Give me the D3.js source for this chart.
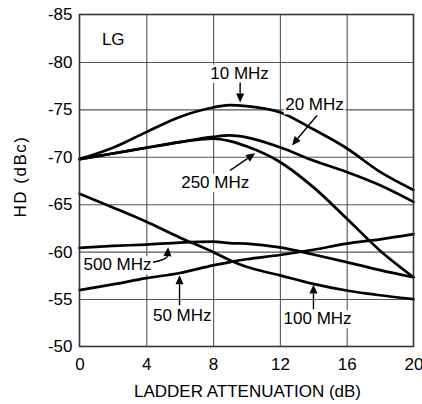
<!DOCTYPE html>
<html>
<head>
<meta charset="utf-8">
<script src="https://cdn.jsdelivr.net/npm/d3@7"></script>
<style>
  html, body { margin: 0; padding: 0; background: #fff; }
  svg { display: block; }
  text { font-family: "Liberation Sans", Arial, Helvetica, sans-serif; fill: #000; }
</style>
</head>
<body>
<svg id="chart" width="422" height="404"></svg>
<script>
// ---- data ----
const xValues = [0, 2, 4, 6, 8, 9, 10, 12, 14, 16, 18, 20];
const hd10MHz  = [-69.75, -70.95, -72.6, -74.2, -75.2, -75.45, -75.35, -74.7, -72.9, -70.9, -68.4, -66.5];
const hd20MHz  = [-69.75, -70.35, -70.95, -71.55, -72.1, -72.25, -72.05, -71.0, -69.6, -68.4, -67.0, -65.25];
const hd250MHz = [-69.75, -70.35, -70.95, -71.55, -71.9, -71.65, -71.1, -69.45, -66.8, -63.5, -60.1, -57.3];
const hd500MHz = [-60.4, -60.6, -60.75, -60.95, -61.05, -60.9, -60.85, -60.45, -59.7, -58.9, -58.05, -57.3];
const hd100MHz = [-66.1, -64.65, -63.15, -61.5, -59.96, -59.1, -58.4, -57.5, -56.6, -55.9, -55.4, -55.0];
const hd50MHz  = [-55.95, -56.55, -57.2, -57.75, -58.55, -58.9, -59.2, -59.65, -60.2, -60.85, -61.3, -61.85];
const seriesList = [hd10MHz, hd20MHz, hd250MHz, hd500MHz, hd100MHz, hd50MHz];

const xTicks = [0, 4, 8, 12, 16, 20];
const yTicks = [-85, -80, -75, -70, -65, -60, -55, -50];
const xTitle = "LADDER ATTENUATION (dB)";
const yTitle = "HD (dBc)";

// annotation labels: text, x (dB), baseline y (dBc)
const labelTexts = ["LG", "10 MHz", "20 MHz", "250 MHz", "500 MHz", "50 MHz", "100 MHz"];
const labelX     = [2.02, 7.83, 12.32, 6.09, 0.24, 4.40, 12.22];
const labelY     = [-81.81, -78.23, -74.89, -66.70, -58.04, -52.70, -52.35];
const labelAnchor = ["middle", "start", "start", "start", "start", "start", "start"];
const labelBg     = [false, true, true, true, true, true, true];

// arrows: [tail, (control), tip] in data units
const arrows = [
  [[9.62, -77.84], [9.62, -75.73]],
  [[14.22, -74.36], [12.72, -71.20]],
  [[9.02, -68.57], [10.52, -70.36]],
  [[4.41, -58.88], [5.25, -59.19], [5.31, -60.47]],
  [[5.99, -54.35], [5.99, -57.51]],
  [[14.01, -53.93], [14.01, -56.53]]
];

// ---- layout ----
const L = 79.5, R = 413.5, T = 14.5, B = 346.5;
const FS = 17;

const svg = d3.select("#chart");
const x = d3.scaleLinear().domain([0, 20]).range([L, R]);
const y = d3.scaleLinear().domain([-85, -50]).range([T, B]);

// gridlines
svg.append("g")
  .attr("transform", `translate(0,${B})`)
  .call(d3.axisBottom(x).tickValues(xTicks.slice(1, -1)).tickSize(-(B - T)).tickFormat(""))
  .call(g => g.select(".domain").remove())
  .call(g => g.selectAll("line").attr("stroke", "#555").attr("stroke-width", 1.1));
svg.append("g")
  .attr("transform", `translate(${L},0)`)
  .call(d3.axisLeft(y).tickValues(yTicks.slice(1, -1)).tickSize(-(R - L)).tickFormat(""))
  .call(g => g.select(".domain").remove())
  .call(g => g.selectAll("line").attr("stroke", "#555").attr("stroke-width", 1.1));

// curves
const line = d3.line()
  .x((d, i) => x(xValues[i]))
  .y(d => y(d))
  .curve(d3.curveMonotoneX);
svg.append("g").selectAll("path")
  .data(seriesList)
  .join("path")
  .attr("d", d => line(d))
  .attr("fill", "none")
  .attr("stroke", "#000")
  .attr("stroke-width", 2.7)
  .attr("stroke-linejoin", "round")
  .attr("stroke-linecap", "round");

// frame
svg.append("rect")
  .attr("x", L).attr("y", T).attr("width", R - L).attr("height", B - T)
  .attr("fill", "none").attr("stroke", "#333").attr("stroke-width", 1.6);

// axes tick labels
svg.append("g")
  .attr("transform", `translate(${L},0)`)
  .call(d3.axisLeft(y).tickValues(yTicks).tickSize(0).tickPadding(7).tickFormat(d => String(d)))
  .call(g => g.select(".domain").remove())
  .call(g => g.selectAll("text").attr("font-size", FS).attr("font-family", "Liberation Sans, Arial, sans-serif").attr("fill", "#000"));
svg.append("g")
  .attr("transform", `translate(0,${B})`)
  .call(d3.axisBottom(x).tickValues(xTicks).tickSize(0).tickPadding(11.5).tickFormat(d => String(d)))
  .call(g => g.select(".domain").remove())
  .call(g => g.selectAll("text").attr("font-size", FS).attr("font-family", "Liberation Sans, Arial, sans-serif").attr("fill", "#000"));

// axis titles
svg.append("text")
  .attr("x", (L + R) / 2 + 1).attr("y", 397)
  .attr("text-anchor", "middle").attr("font-size", FS)
  .text(xTitle);
svg.append("text")
  .attr("transform", `translate(26,${(T + B) / 2 - 4}) rotate(-90)`)
  .attr("text-anchor", "middle").attr("font-size", FS)
  .attr("letter-spacing", 1.5)
  .text(yTitle);

// annotation labels with white backing
const lab = svg.append("g");
labelTexts.forEach((t, i) => {
  const g = lab.append("g");
  const txt = g.append("text")
    .attr("x", x(labelX[i])).attr("y", y(labelY[i]))
    .attr("text-anchor", labelAnchor[i]).attr("font-size", FS)
    .text(t);
  if (labelBg[i]) {
    const bb = txt.node().getBBox();
    g.insert("rect", "text")
      .attr("x", bb.x - 1.5).attr("y", bb.y + 1)
      .attr("width", bb.width + 3).attr("height", bb.height - 1)
      .attr("fill", "#fff");
  }
});

// arrows
const ag = svg.append("g");
arrows.forEach(a => {
  const p = a.map(d => [x(d[0]), y(d[1])]);
  const tip = p[p.length - 1];
  const prev = p[p.length - 2];
  const dx = tip[0] - prev[0], dy = tip[1] - prev[1];
  const len = Math.hypot(dx, dy);
  const ux = dx / len, uy = dy / len;
  const hl = 9, hw = 4;
  const base = [tip[0] - ux * hl, tip[1] - uy * hl];
  let d;
  if (p.length === 3) {
    d = `M${p[0][0]},${p[0][1]} Q${p[1][0]},${p[1][1]} ${base[0]},${base[1]}`;
  } else {
    d = `M${p[0][0]},${p[0][1]} L${base[0]},${base[1]}`;
  }
  ag.append("path").attr("d", d).attr("fill", "none").attr("stroke", "#000").attr("stroke-width", 1.4);
  ag.append("path")
    .attr("d", `M${tip[0]},${tip[1]} L${base[0] - uy * hw},${base[1] + ux * hw} L${base[0] + uy * hw},${base[1] - ux * hw} Z`)
    .attr("fill", "#000");
});
</script>
</body>
</html>
